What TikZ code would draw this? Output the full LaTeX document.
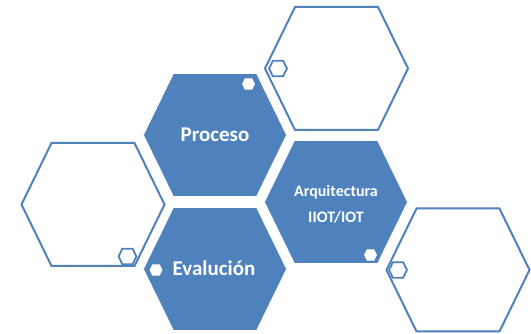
\documentclass[tikz,border=0pt]{standalone}
\usepackage{fontspec}
\setmainfont{Carlito}
\definecolor{hexblue}{HTML}{4F81BD}
\begin{document}
\begin{tikzpicture}[x=1pt,y=-1pt,
		hexa/.pic={\path[pic actions] (-71.5,0)--(-41.5,-61.5)--(41.5,-61.5)--(71.5,0)--(41.5,61.5)--(-41.5,61.5)--cycle;},
		hexfull/.style={fill=hexblue,draw=white,line width=.6pt},
		hexempty/.style={fill=white,draw=hexblue,line width=2pt},
		hexdot/.style={fill=white,draw=none,scale=.09},
		hexring/.style={fill=white,draw=hexblue,line width=1.8pt,scale=.125},
		hextext/.style={text=white,font=\bfseries\fontsize{21}{24}\selectfont}]
		\useasboundingbox (0,0) rectangle (531,334);
		% big cells
		\pic[hexempty] at (336.5,68.5) {hexa};
		\pic[hexfull] at (215,135) {hexa};
		\pic[hexempty] at (93,204.5) {hexa};
		\pic[hexfull] at (336,202) {hexa};
		\pic[hexfull] at (215,269) {hexa};
		\pic[hexempty] at (458,270) {hexa};
		% small cells
		\pic[hexdot] at (248.5,84) {hexa};
		\pic[hexdot] at (370.5,255) {hexa};
		\pic[hexdot] at (156,270) {hexa};
		\pic[hexring] at (278,68.5) {hexa};
		\pic[hexring] at (127.5,256.5) {hexa};
		\pic[hexring] at (398,270) {hexa};
		% texts
		\node[hextext] (proceso) at (215,135) {Proceso};
		\node[hextext,align=center,font=\bfseries\fontsize{16}{26}\selectfont] (arquitectura) at (336,204) {Arquitectura\\IIOT/IOT};
		\node[hextext,anchor=base] (evaluacion) at (214,276) {Evalución};
	\end{tikzpicture}
\end{document}
